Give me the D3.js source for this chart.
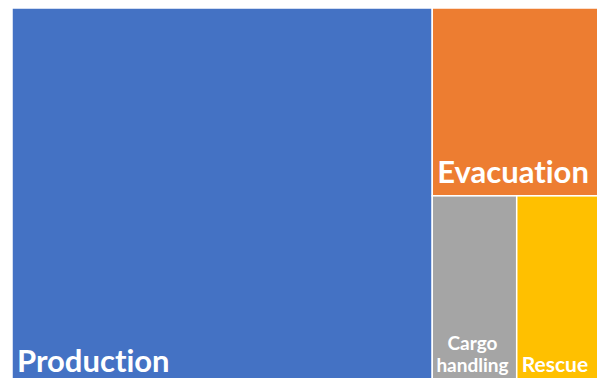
<!DOCTYPE html>
<html>
<head>
<meta charset="utf-8">
<script src="https://cdn.jsdelivr.net/npm/d3@7"></script>
<style>
  body { margin: 0; background: #fff; }
  svg { display: block; }
  text { font-variant-ligatures: none; }
</style>
</head>
<body>
<script>
// treemap data
const categories = ['Production', 'Evacuation', 'Cargo handling', 'Rescue'];
const values = [71.4, 14.2, 7.2, 7.1];

// styles kept apart from the data
const colors = {
  'Production': '#4472C4',
  'Evacuation': '#ED7D31',
  'Cargo handling': '#A5A5A5',
  'Rescue': '#FFC000'
};
const fontSizes = {
  'Production': 31,
  'Evacuation': 31,
  'Cargo handling': 19,
  'Rescue': 21
};

const width = 597;
const height = 378;

// plot area runs a little past the window on the right and bottom
const area = { x: 12, y: 8, w: 588, h: 377 };

const svg = d3.select('body')
  .append('svg')
  .attr('width', width)
  .attr('height', height)
  .style('overflow', 'hidden');

const data = {
  name: 'root',
  children: categories.map((c, i) => ({ name: c, value: values[i] }))
};

const root = d3.hierarchy(data)
  .sum(d => d.value || 0)
  .sort((a, b) => b.value - a.value);

d3.treemap()
  .tile(d3.treemapSquarify.ratio(2))
  .size([area.w, area.h])
  .paddingInner(0)(root);

const g = svg.append('g')
  .attr('transform', `translate(${area.x},${area.y})`);

const cell = g.selectAll('g.cell')
  .data(root.leaves())
  .join('g')
  .attr('class', 'cell');

cell.append('rect')
  .attr('x', d => d.x0)
  .attr('y', d => d.y0)
  .attr('width', d => d.x1 - d.x0)
  .attr('height', d => d.y1 - d.y0)
  .attr('fill', d => colors[d.data.name])
  .attr('stroke', '#fff')
  .attr('stroke-width', 1.5);

// labels sit at the bottom-left, wrapped if too wide
cell.each(function(d) {
  const fs = fontSizes[d.data.name];
  const w = d.x1 - d.x0;
  const text = d3.select(this).append('text')
    .attr('fill', '#fff')
    .attr('font-family', 'Lato, "Open Sans", sans-serif')
    .attr('font-weight', 'bold')
    .attr('font-size', fs);

  text.text(d.data.name);
  if (text.node().getComputedTextLength() <= w - 8) {
    text.attr('x', d.x0 + 5).attr('y', d.y1 - 13);
  } else {
    // wrap word by word and center in the cell
    const words = d.data.name.split(' ');
    text.text(null)
      .attr('text-anchor', 'middle');
    const lh = fs * 1.15;
    words.forEach((word, i) => {
      text.append('tspan')
        .attr('x', (d.x0 + d.x1) / 2 - 2)
        .attr('y', d.y1 - 13 - (words.length - 1 - i) * lh)
        .text(word);
    });
  }
});
</script>
</body>
</html>
